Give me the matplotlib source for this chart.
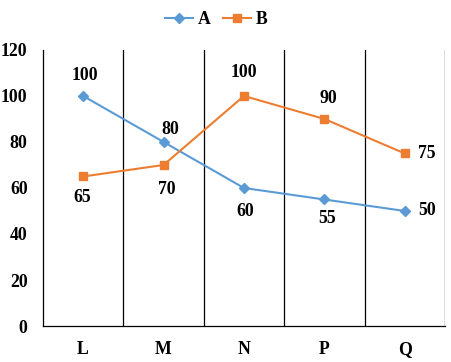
import matplotlib.pyplot as plt
import numpy as np

categories = ['L', 'M', 'N', 'P', 'Q']
series_a = [100, 80, 60, 55, 50]
series_b = [65, 70, 100, 90, 75]
yticks = [0, 20, 40, 60, 80, 100, 120]

# label placement for each point: (dx, dy) in points
offs_a = [(1, 15), (5, 9), (1, -17), (2, -14), (16, 0)]
offs_b = [(-1, -15), (2, -18), (0, 17), (3, 15), (16, 0)]

plt.rcParams['font.family'] = ['Liberation Serif', 'DejaVu Serif']
plt.rcParams['font.weight'] = 'bold'

fig = plt.figure(figsize=(4.52, 3.62), dpi=100)
ax = fig.add_axes([0.095, 0.0994, 0.8895, 0.7626])

x = np.arange(len(categories))
ax.plot(x, series_a, color='#5B9BD5', lw=1.5, marker='D', ms=5, label='A')
ax.plot(x, series_b, color='#ED7D31', lw=1.5, marker='s', ms=5.5, label='B')

for xi, v, o in zip(x, series_a, offs_a):
    ax.annotate(str(v), (xi, v), xytext=o, textcoords='offset points',
                ha='center', va='center', fontsize=12.8, fontweight='bold')
for xi, v, o in zip(x, series_b, offs_b):
    ax.annotate(str(v), (xi, v), xytext=o, textcoords='offset points',
                ha='center', va='center', fontsize=12.8, fontweight='bold')

for b in np.arange(0.5, len(categories), 1.0):
    ax.axvline(b, color='black', lw=0.9, zorder=0)

ax.set_xlim(-0.5, len(categories) - 0.5)
ax.set_ylim(0, 120)
ax.set_yticks(yticks)
ax.set_xticks(x)
ax.set_xticklabels(categories)
ax.tick_params(length=0, labelsize=12.8)
ax.tick_params(axis='x', pad=11)
ax.tick_params(axis='y', pad=11)
for s in ['top', 'right']:
    ax.spines[s].set_visible(False)
for s in ['left', 'bottom']:
    ax.spines[s].set_color('black')
    ax.spines[s].set_linewidth(0.9)

fig.legend(loc='center', bbox_to_anchor=(0.478, 0.946), ncol=2, frameon=False,
           fontsize=12.8, handlelength=1.6, columnspacing=0.7, handletextpad=0.25)

fig.savefig('out.png', dpi=100)
